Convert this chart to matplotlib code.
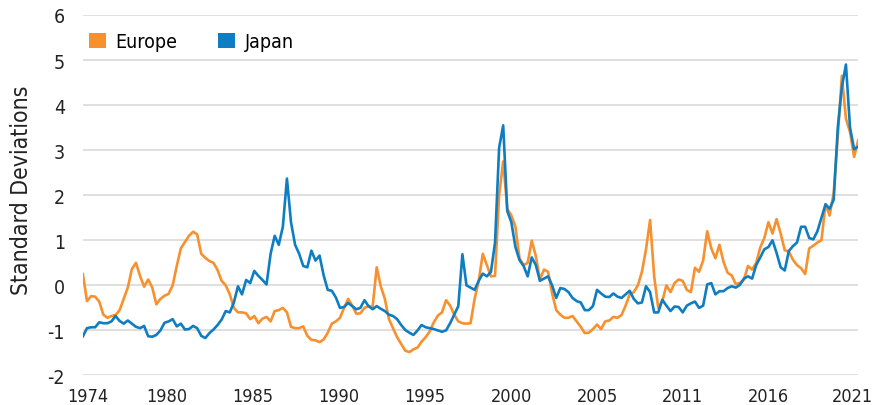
import matplotlib
matplotlib.use("Agg")
import matplotlib.pyplot as plt
import numpy as np
from matplotlib.patches import Patch

# quarterly readings, first point = start of 1974
europe = [0.25, -0.35, -0.24, -0.25, -0.36, -0.65, -0.72, -0.68, -0.66, -0.55,
          -0.30, -0.05, 0.36, 0.50, 0.21, -0.03, 0.13, -0.05, -0.42, -0.30,
          -0.23, -0.19, 0.00, 0.43, 0.82, 0.96, 1.10, 1.19, 1.13, 0.70,
          0.61, 0.54, 0.50, 0.34, 0.10, 0.00, -0.20, -0.50, -0.60, -0.60,
          -0.62, -0.75, -0.68, -0.84, -0.74, -0.70, -0.80, -0.57, -0.55, -0.50,
          -0.60, -0.92, -0.95, -0.95, -0.91, -1.12, -1.21, -1.22, -1.26, -1.20,
          -1.05, -0.85, -0.80, -0.72, -0.50, -0.30, -0.45, -0.63, -0.62, -0.50,
          -0.46, -0.48, 0.40, -0.02, -0.30, -0.75, -0.95, -1.15, -1.30, -1.45,
          -1.48, -1.42, -1.38, -1.25, -1.15, -1.02, -0.82, -0.67, -0.60, -0.33,
          -0.45, -0.65, -0.80, -0.84, -0.85, -0.84, -0.30, 0.10, 0.70, 0.45,
          0.20, 0.21, 2.00, 2.75, 1.70, 1.55, 1.30, 0.60, 0.45, 0.50,
          0.99, 0.65, 0.13, 0.35, 0.30, -0.18, -0.55, -0.65, -0.72, -0.72,
          -0.68, -0.80, -0.92, -1.06, -1.05, -0.97, -0.87, -0.97, -0.80, -0.78,
          -0.70, -0.72, -0.66, -0.45, -0.20, -0.15, 0.00, 0.30, 0.80, 1.45,
          0.20, -0.50, -0.35, 0.00, -0.15, 0.05, 0.13, 0.10, -0.10, -0.15,
          0.39, 0.30, 0.55, 1.20, 0.82, 0.60, 0.90, 0.52, 0.28, 0.22,
          0.03, 0.05, 0.13, 0.43, 0.35, 0.50, 0.84, 1.05, 1.40, 1.15,
          1.47, 1.15, 0.78, 0.75, 0.57, 0.45, 0.38, 0.25, 0.82, 0.88,
          0.95, 1.00, 1.80, 1.55, 2.05, 3.30, 4.65, 3.70, 3.40, 2.85,
          3.22]

japan = [-1.13, -0.95, -0.93, -0.93, -0.82, -0.84, -0.84, -0.80, -0.68, -0.79,
         -0.85, -0.78, -0.85, -0.92, -0.95, -0.90, -1.13, -1.14, -1.10, -1.00,
         -0.83, -0.80, -0.75, -0.91, -0.85, -0.98, -0.97, -0.90, -0.95, -1.12,
         -1.17, -1.06, -0.98, -0.88, -0.76, -0.57, -0.60, -0.38, -0.02, -0.20,
         0.12, 0.05, 0.32, 0.21, 0.12, 0.02, 0.70, 1.10, 0.90, 1.30,
         2.37, 1.40, 0.90, 0.70, 0.43, 0.40, 0.77, 0.55, 0.66, 0.22,
         -0.10, -0.12, -0.27, -0.50, -0.48, -0.39, -0.46, -0.53, -0.50, -0.33,
         -0.46, -0.53, -0.46, -0.52, -0.57, -0.65, -0.68, -0.75, -0.88, -0.99,
         -1.05, -1.10, -1.00, -0.88, -0.93, -0.95, -0.97, -1.00, -1.03, -1.00,
         -0.84, -0.65, -0.46, 0.69, 0.00, -0.05, -0.10, 0.10, 0.26, 0.20,
         0.30, 0.95, 3.05, 3.55, 1.65, 1.40, 0.85, 0.56, 0.43, 0.20,
         0.62, 0.45, 0.10, 0.15, 0.20, 0.00, -0.28, -0.06, -0.08, -0.15,
         -0.28, -0.35, -0.38, -0.55, -0.55, -0.46, -0.10, -0.18, -0.25, -0.26,
         -0.18, -0.25, -0.28, -0.20, -0.12, -0.30, -0.40, -0.38, -0.02, -0.15,
         -0.60, -0.60, -0.32, -0.45, -0.57, -0.47, -0.48, -0.60, -0.45, -0.40,
         -0.36, -0.50, -0.45, 0.02, 0.05, -0.20, -0.13, -0.13, -0.06, -0.02,
         -0.05, 0.01, 0.15, 0.20, 0.15, 0.45, 0.62, 0.80, 0.85, 1.00,
         0.72, 0.40, 0.33, 0.76, 0.87, 0.95, 1.30, 1.30, 1.05, 1.02,
         1.20, 1.50, 1.80, 1.70, 1.90, 3.50, 4.40, 4.90, 3.50, 3.02,
         3.08]

step_months = 3
tick_months = [3.7, 62, 125, 188, 251, 315, 378, 441, 504, 566]
tick_labels = ["1974", "1980", "1985", "1990", "1995", "2000", "2005", "2011", "2016", "2021"]

orange = "#F7902E"
blue = "#0F7DC2"

plt.rcParams["font.family"] = ["DejaVu Sans"]
plt.rcParams["font.stretch"] = "condensed"

fig = plt.figure(figsize=(8.82, 4.06), dpi=100)
ax = fig.add_axes([0.094, 0.0727, 0.879, 0.888])

x = np.arange(len(europe)) * step_months
ax.plot(x, europe, color=orange, lw=1.9, solid_joinstyle="round")
ax.plot(x, japan, color=blue, lw=1.9, solid_joinstyle="round")

ax.set_xlim(0, 570)
ax.set_ylim(-2, 6)
ax.set_yticks(range(-2, 7))
ax.set_yticklabels([str(v) for v in range(-2, 7)])
ax.set_xticks(tick_months)
ax.set_xticklabels(tick_labels)
ax.yaxis.grid(True, color="#d9d9d9", lw=1.2)
ax.set_axisbelow(True)
for s in ax.spines.values():
    s.set_visible(False)
ax.tick_params(length=0, labelsize=13, colors="#222222")
ax.tick_params(axis="y", labelsize=14, pad=13)
ax.tick_params(axis="x", pad=8)
ax.set_ylabel("Standard Deviations", fontsize=16.5, color="#222222")
ax.yaxis.set_label_coords(-0.064, 0.517)

handles = [Patch(facecolor=orange, label="Europe"), Patch(facecolor=blue, label="Japan")]
ax.legend(handles=handles, loc="upper left", bbox_to_anchor=(-0.007, 0.985), ncol=2,
          frameon=False, fontsize=14, handlelength=0.85, handleheight=0.85,
          handletextpad=0.5, columnspacing=2.1, borderaxespad=0.2)

fig.savefig("out.png", dpi=100)
